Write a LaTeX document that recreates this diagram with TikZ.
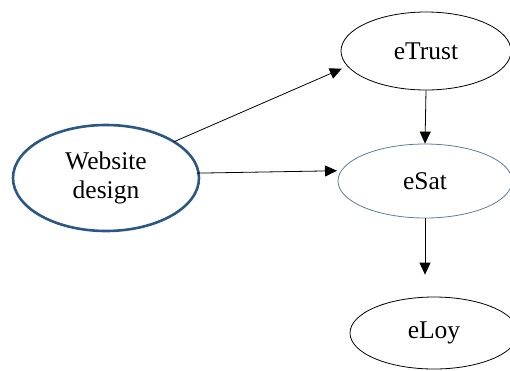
\documentclass[tikz,border=0pt]{standalone}
\usepackage{fontspec}
\setmainfont{Liberation Serif}
\usetikzlibrary{shapes.geometric,arrows.meta}
\definecolor{webblue}{HTML}{2B5784}
\definecolor{satblue}{HTML}{5A7E9C}
\begin{document}
\begin{tikzpicture}[x=1pt,y=-1pt,
  oval/.style={ellipse,draw=black,line width=0.8pt,inner sep=0pt,font=\fontsize{25.5}{29}\selectfont,align=center},
  arr/.style={draw=black,line width=0.8pt,-{Triangle[length=12pt,width=11pt]}}]
\useasboundingbox (0,0) rectangle (510,370);
\node[oval,draw=webblue,line width=2.6pt,minimum width=186pt,minimum height=106pt] (web) at (106,178) {Website\\design};
\node[oval,minimum width=170pt,minimum height=78pt] (trust) at (426,51) {eTrust};
\node[oval,draw=satblue,minimum width=174pt,minimum height=74pt] (sat) at (425,181) {eSat};
\node[oval,minimum width=168pt,minimum height=72pt] (loy) at (434,333) {eLoy};
\draw[arr,shorten <=-2pt,shorten >=6pt] (web.28) -- (trust.191);
\draw[arr,shorten <=-3pt,shorten >=4pt] (web.3) -- (sat.173);
\draw[arr] (trust.south) -- (sat.north);
\draw[arr,shorten >=22pt] (sat.south) -- (sat.south |- loy.north);
\end{tikzpicture}
\end{document}
